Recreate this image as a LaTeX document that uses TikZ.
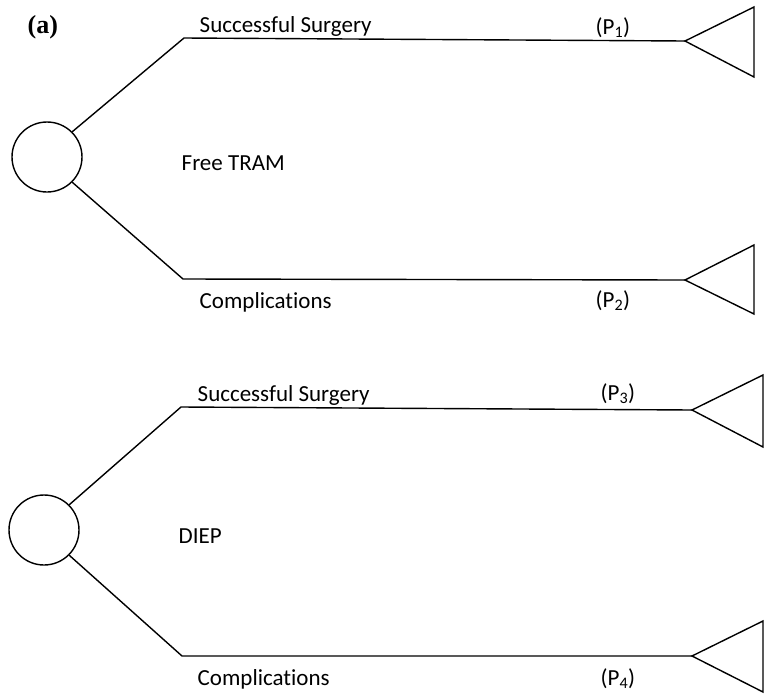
\documentclass[tikz,border=0pt]{standalone}
\usepackage{fontspec}
\setmainfont{Carlito}[Ligatures=CommonOff]
\newfontfamily\labelserif{Liberation Serif}
\begin{document}
\begin{tikzpicture}[x=1pt,y=-1pt,
  line width=1.4pt,
  chance/.style={draw,circle,minimum size=70pt,inner sep=0pt,line width=1.4pt},
  txt/.style={anchor=base west,inner sep=0pt,font=\fontsize{23}{27}\selectfont},
  term/.style={draw,line width=1.4pt,line join=miter}]
\useasboundingbox (0,0) rectangle (764,694);
% ---- top tree ----
\node[chance] (c1) at (47,157) {};
\coordinate (u1) at (184,38);
\coordinate (t1) at (685,41);
\coordinate (l1) at (183,279);
\coordinate (t2) at (685,280);
\draw (c1.45) -- (u1) -- (t1);
\draw (c1.-45) -- (l1) -- (t2);
\draw[term] (t1) -- (754,7) -- (754,77) -- cycle;
\draw[term] (t2) -- (754,245) -- (754,314) -- cycle;
\node[anchor=base west,inner sep=0pt,font=\labelserif\bfseries\fontsize{26}{30}\selectfont] (a) at (27,33) {(a)};
\node[txt] (s1) at (199,32) {Successful Surgery};
\node[txt] (p1) at (595,34) {(P\textsubscript{1})};
\node[txt] (m1) at (181,170) {Free TRAM};
\node[txt] (k1) at (199,308) {Complications};
\node[txt] (p2) at (595,307) {(P\textsubscript{2})};
% ---- bottom tree ----
\node[chance] (c2) at (44,530) {};
\coordinate (u2) at (181,407);
\coordinate (t3) at (692,410);
\coordinate (l2) at (182,656);
\coordinate (t4) at (692,656);
\draw (c2.45) -- (u2) -- (t3);
\draw (c2.-45) -- (l2) -- (t4);
\draw[term] (t3) -- (763,375) -- (763,447) -- cycle;
\draw[term] (t4) -- (763,621) -- (763,692) -- cycle;
\node[txt] (s2) at (197,401) {Successful Surgery};
\node[txt] (p3) at (600,400) {(P\textsubscript{3})};
\node[txt] (m2) at (178,543) {DIEP};
\node[txt] (k2) at (197,685) {Complications};
\node[txt] (p4) at (600,685) {(P\textsubscript{4})};
\end{tikzpicture}
\end{document}
